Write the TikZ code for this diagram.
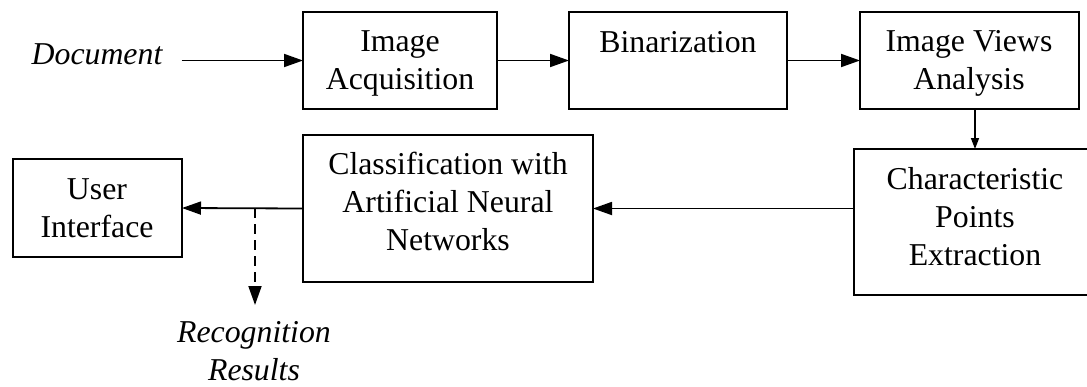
\documentclass[tikz,border=0pt]{standalone}
\usepackage{fontspec}
\setmainfont{Liberation Serif}
\usetikzlibrary{arrows.meta}
\begin{document}
\begin{tikzpicture}[x=1pt,y=-1pt,
  box/.style={draw, line width=1.8pt, inner sep=0pt, outer sep=0pt},
  txt/.style={inner sep=0pt, align=center, font=\fontsize{31.8pt}{38pt}\selectfont},
  itxt/.style={inner sep=0pt, align=center, font=\fontsize{31.8pt}{38pt}\selectfont\itshape},
  arr/.style={line width=1.8pt, -{Triangle[length=19pt,width=13pt]}},
  sarr/.style={line width=1.5pt, -{Triangle[length=11pt,width=8pt]}}]
\clip (0,0) rectangle (1087,386);
% boxes
\node[box, minimum width=194pt, minimum height=97pt] (acq) at (400,60.5) {};
\node[box, minimum width=218pt, minimum height=97pt] (bin) at (678,60.5) {};
\node[box, minimum width=219pt, minimum height=97pt] (iva) at (969.5,60.5) {};
\node[box, minimum width=242pt, minimum height=146pt] (cpe) at (975,222) {};
\node[box, minimum width=290pt, minimum height=147pt] (cls) at (448,208.5) {};
\node[box, minimum width=169pt, minimum height=98pt] (ui) at (97.5,208) {};
% texts (base anchor = baseline of the last line)
\node[txt, anchor=base] (acqt) at (400,89) {Image\\Acquisition};
\node[txt, anchor=base] (bint) at (678,52) {Binarization};
\node[txt, anchor=base] (ivat) at (969,89) {Image Views\\Analysis};
\node[txt, anchor=base] (cpet) at (975,265) {Characteristic\\Points\\Extraction};
\node[txt, anchor=base] (clst) at (448,250) {Classification with\\Artificial Neural\\Networks};
\node[txt, anchor=base] (uit) at (97,237) {User\\Interface};
\node[itxt, anchor=base] (doc) at (97,64) {Document};
\node[itxt, anchor=base] (rec) at (254,380) {Recognition\\Results};
% connectors
\draw[arr] ([xshift=19pt]doc.east |- acq.west) -- (acq.west);
\draw[arr] (acq.east) -- (bin.west);
\draw[arr] (bin.east) -- (iva.west);
\draw[sarr] (iva.south -| cpe.north) -- (cpe.north);
\draw[arr] (cpe.west |- cls.east) -- (cls.east);
\draw[arr] (cls.west) -- (ui.east);
\coordinate (split) at (255,208);
\coordinate (resend) at (255,305);
\draw[arr, dash pattern=on 10pt off 6pt] (split) -- (resend);
\end{tikzpicture}
\end{document}
